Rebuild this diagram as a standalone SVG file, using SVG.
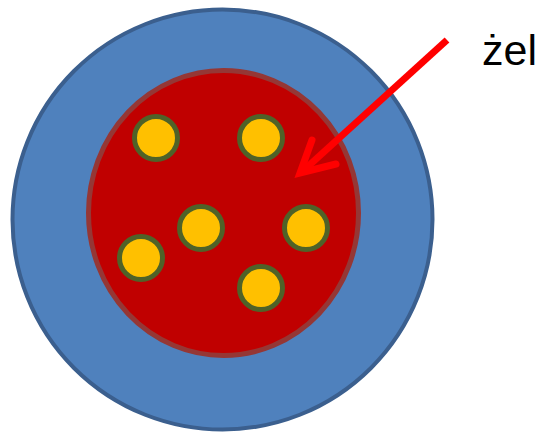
<svg xmlns="http://www.w3.org/2000/svg" width="537" height="432" viewBox="0 0 537 432">
<style>
.outer{fill:#4f81bd;stroke:#3b5f8e;stroke-width:4}
.inner{fill:#c00000;stroke:#953735;stroke-width:5}
.dot{fill:#ffc000;stroke:#4f6228;stroke-width:5}
.arrow{fill:none;stroke:#ff0000;stroke-width:7;stroke-linejoin:miter}
.label{font-family:"Liberation Sans",Arial,sans-serif;font-size:43px;fill:#000}
</style>
<rect width="537" height="432" fill="#fff"/>
<g id="outer"><ellipse class="outer" cx="222.5" cy="219.5" rx="210" ry="210"/></g>
<g id="inner"><ellipse class="inner" cx="223.5" cy="213" rx="135" ry="142.5"/></g>
<g id="dot1"><circle class="dot" cx="156" cy="138" r="21.5"/></g>
<g id="dot2"><circle class="dot" cx="261" cy="138" r="21.5"/></g>
<g id="dot3"><circle class="dot" cx="201" cy="228" r="21.5"/></g>
<g id="dot4"><circle class="dot" cx="306" cy="228" r="21.5"/></g>
<g id="dot5"><circle class="dot" cx="141" cy="258" r="21.5"/></g>
<g id="dot6"><circle class="dot" cx="261" cy="288" r="21.5"/></g>
<g id="connectors">
<path class="arrow" d="M447,40 L304,170"/>
<path class="arrow" d="M312,140 L300,173 L336,164" stroke-linecap="round"/>
</g>
<g id="label"><text class="label" x="482" y="65">żel</text></g>
</svg>
